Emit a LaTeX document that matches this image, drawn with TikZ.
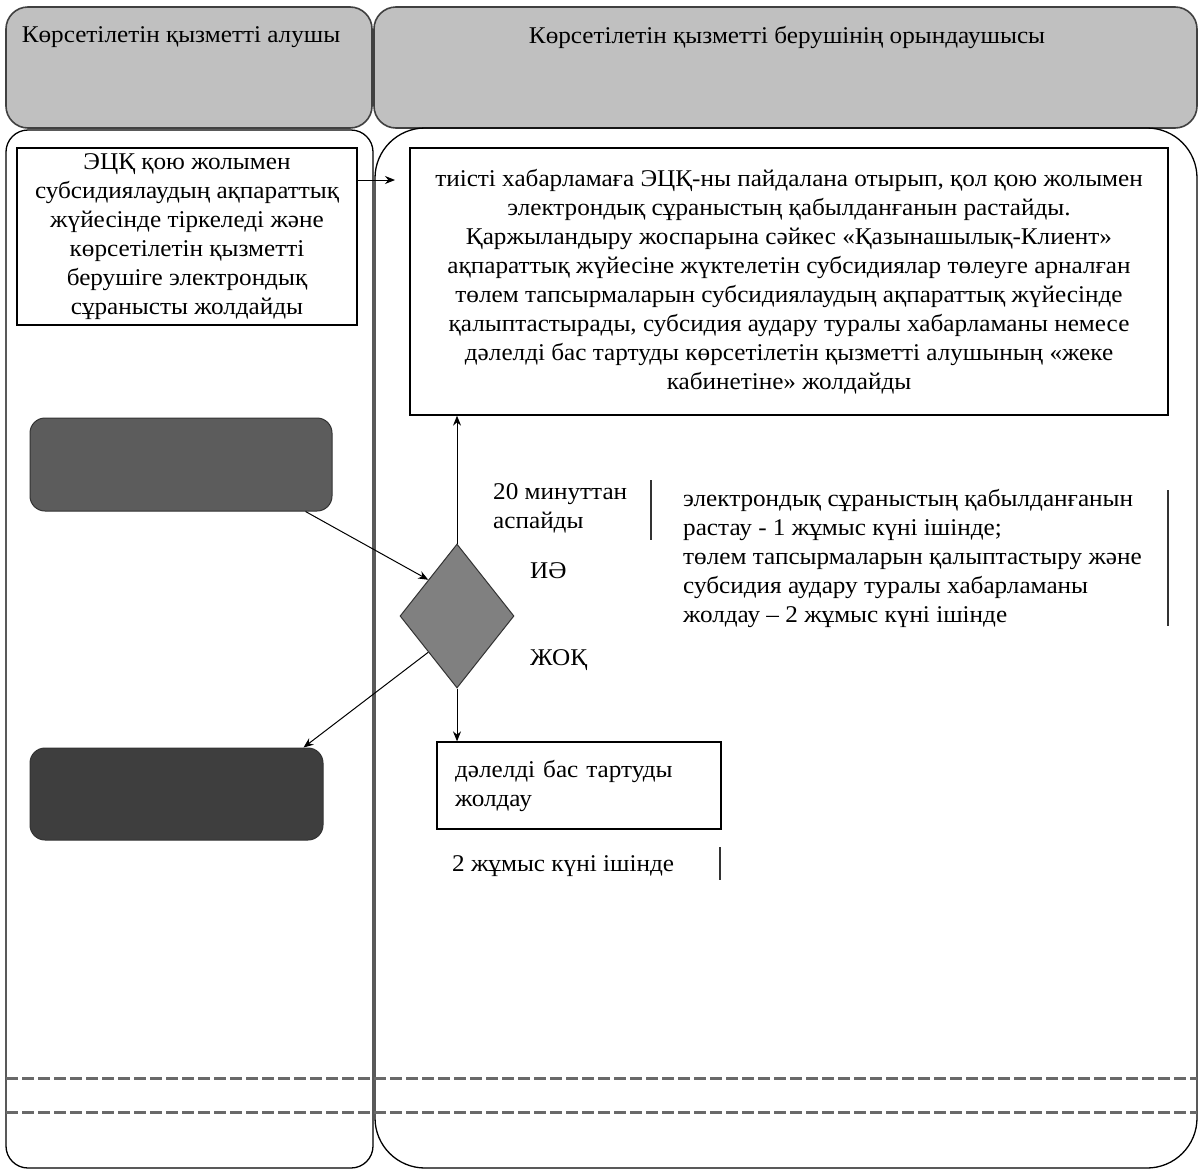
\documentclass[tikz,border=0pt]{standalone}
\usepackage{fontspec}
\setmainfont{Liberation Serif}[FakeStretch=1.05]
\usetikzlibrary{shapes.geometric,arrows.meta,calc}
\definecolor{hdrgray}{RGB}{192,192,192}
\definecolor{boxA}{RGB}{92,92,92}
\definecolor{boxB}{RGB}{62,62,62}
\definecolor{diagray}{RGB}{128,128,128}
\definecolor{dashgray}{RGB}{105,105,105}
\begin{document}
\begin{tikzpicture}[x=1pt,y=-1pt,
  txt/.style={font=\fontsize{24}{29}\selectfont, inner sep=0pt},
  hdr/.style={draw=black!75, line width=1.6pt, fill=hdrgray, rounded corners=22pt},
  lane/.style={draw=black, line width=1.3pt},
  procbox/.style={draw=black, line width=1.3pt, fill=white, align=center, font=\fontsize{24}{29}\selectfont, inner sep=0pt},
  graybox/.style={draw=black!80, line width=1pt, rounded corners=15pt},
  decision/.style={diamond, draw=black!80, line width=1pt, fill=diagray, inner sep=0pt, minimum width=114pt, minimum height=144pt},
  arr/.style={draw=black, line width=1pt, -{Stealth[length=10pt,width=8pt]}},
  vline/.style={draw=black!80, line width=1.2pt},
  dashln/.style={draw=dashgray, line width=3pt, dash pattern=on 12pt off 4pt}
]
\useasboundingbox (0,0) rectangle (1201,1173);
\fill[white] (0,0) rectangle (1201,1173);

% headers
\draw[hdr] (6,7) rectangle (372,128);
\draw[hdr] (374,7) rectangle (1197,128);
\node[txt] (hl) at (181,37) {Көрсетілетін қызметті алушы};
\node[txt] (hr) at (787,37) {Көрсетілетін қызметті берушінің орындаушысы};

% lanes
\draw[lane, rounded corners=22pt] (6,130) rectangle (373,1168);
\draw[lane, rounded corners=50pt] (375,128) rectangle (1197,1168);

% boxes
\node[procbox, minimum width=340pt, minimum height=177pt] (b1) at (187,236.5)
  {ЭЦҚ қою жолымен\\ субсидиялаудың ақпараттық\\ жүйесінде тіркеледі және\\ көрсетілетін қызметті\\ берушіге электрондық\\ сұранысты жолдайды};
\node[procbox, minimum width=758pt, minimum height=267pt] (rb) at (789,281.5)
  {тиісті хабарламаға ЭЦҚ-ны пайдалана отырып, қол қою жолымен\\ электрондық сұраныстың қабылданғанын растайды.\\ Қаржыландыру жоспарына сәйкес «Қазынашылық-Клиент»\\ ақпараттық жүйесіне жүктелетін субсидиялар төлеуге арналған\\ төлем тапсырмаларын субсидиялаудың ақпараттық жүйесінде\\ қалыптастырады, субсидия аудару туралы хабарламаны немесе\\ дәлелді бас тартуды көрсетілетін қызметті алушының «жеке\\ кабинетіне» жолдайды};

\node[graybox, fill=boxA, minimum width=302pt, minimum height=93pt] (g1) at (181,464.5) {};
\node[graybox, fill=boxB, minimum width=293pt, minimum height=92pt] (g2) at (176.5,794) {};
\node[decision] (d) at (457,616) {};

\node[draw=black, line width=1.3pt, fill=white, minimum width=284pt, minimum height=87pt,
      text width=248pt, align=left, inner xsep=18pt, font=\fontsize{24}{29}\selectfont] (b3) at (579,785.5)
  {дәлелді бас тартуды\\ жолдау};

% labels
\node[txt, anchor=west, align=left] (t20) at (493,508) {20 минуттан\\ аспайды};
\node[txt, anchor=west] (yes) at (530,571) {ИӘ};
\node[txt, anchor=west] (no) at (530,660) {ЖОҚ};
\node[txt, anchor=west, align=left] (tm) at (683,558) {электрондық сұраныстың қабылданғанын\\ растау - 1 жұмыс күні ішінде;\\ төлем тапсырмаларын қалыптастыру және\\ субсидия аудару туралы хабарламаны\\ жолдау – 2 жұмыс күні ішінде};
\node[txt, anchor=west] (t2) at (452,866) {2 жұмыс күні ішінде};

\draw[vline] (651,480) -- (651,540);
\draw[vline] (1168,490) -- (1168,626);
\draw[vline] (720,847) -- (720,880);

% connectors
\coordinate (a1e) at (395,180);
\draw[arr] (b1.east |- a1e) -- (a1e);
\draw[arr] ($(g1.south east)+(-27,0)$) -- (d.north west);
\draw[arr] (d.south west) -- ($(g2.north east)+(-20,0)$);
\draw[arr] (d.north) -- (d.north |- rb.south);
\draw[arr] (d.south) -- (d.south |- b3.north);

% dashed lines
\draw[dashln] (6,1078) -- (1197,1078);
\draw[dashln] (6,1112) -- (1197,1112);
\end{tikzpicture}
\end{document}
